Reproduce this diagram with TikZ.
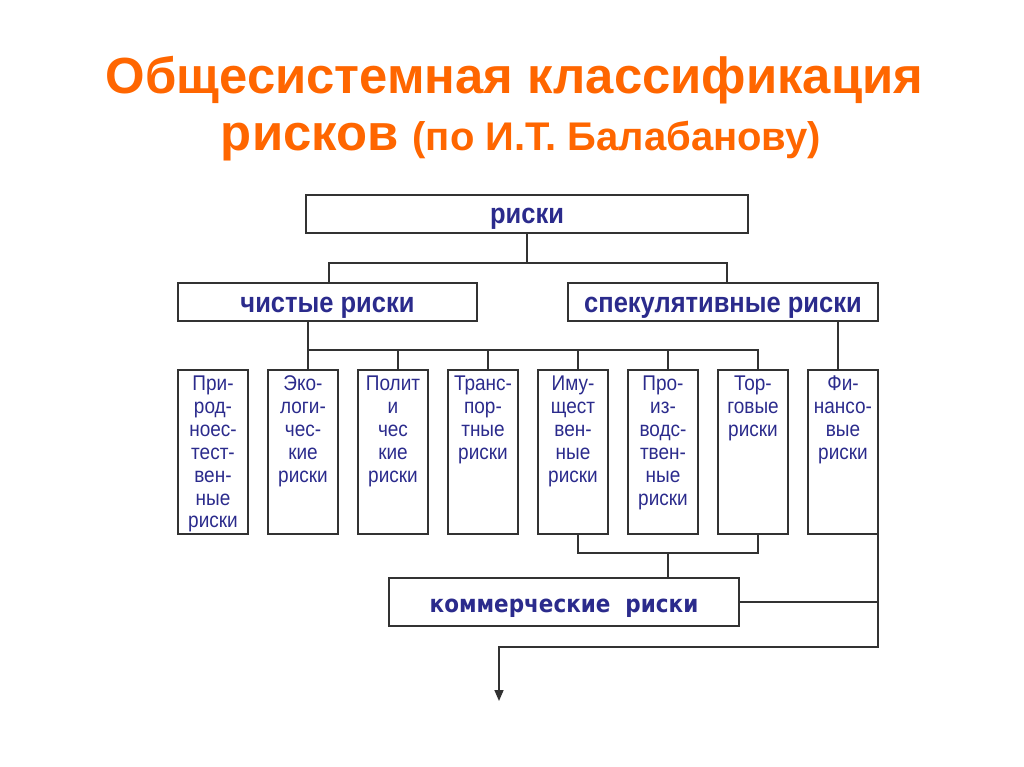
\documentclass[tikz,border=0pt]{standalone}
\usepackage{graphicx}
\usepackage{fontspec}
\setmainfont{Liberation Sans}
\newfontfamily\widefont{DejaVu Sans}
\usetikzlibrary{arrows.meta}
\definecolor{titleorange}{RGB}{255,102,0}
\definecolor{ink}{RGB}{43,43,140}
\definecolor{rule}{RGB}{50,50,50}
\newcommand{\tall}[1]{\scalebox{1}[1.12]{#1}}

\begin{document}
\begin{tikzpicture}[x=1pt,y=-1pt,line width=1.6pt,draw=rule,
  box/.style={draw=rule,fill=white,inner sep=0pt,outer sep=0pt,text height=20pt,text depth=0pt,
     font=\fontsize{25.5}{30}\selectfont\bfseries,text=ink},
  leaf/.style={draw=rule,minimum width=70pt,minimum height=164pt,inner sep=0pt,outer sep=0pt},
  leaftext/.style={anchor=north,inner sep=0pt,text=ink,
     font=\fontsize{19}{20.4}\selectfont}]
  \useasboundingbox (0,0) rectangle (1024,767);
  \node[titleorange,font=\fontsize{50.8}{58}\selectfont\bfseries] (title1) at (514.5,80) {Общесистемная классификация};
  \node[titleorange,font=\fontsize{50.8}{58}\selectfont\bfseries] (title2) at (521,141)
     {рисков {\fontsize{40}{46}\selectfont(по И.Т. Балабанову)}};

  \node[box,minimum width=442pt,minimum height=38pt] (risks) at (527,214) {\tall{риски}};
  \node[box,minimum width=299pt,minimum height=38pt] (pure) at (327.5,302) {\tall{чистые риски}};
  \node[box,minimum width=310pt,minimum height=38pt] (spec) at (723,302) {\tall{спекулятивные риски}};
  \node[box,minimum width=350pt,minimum height=48pt,font=\widefont\fontsize{21.5}{26}\selectfont\bfseries]
     (comm) at (564,602) {\tall{коммерческие\ \ риски}};

  \foreach \i/\txt in {1/{При-\\род-\\ноес-\\тест-\\вен-\\ные\\риски},
                       2/{Эко-\\логи-\\чес-\\кие\\риски},
                       3/{Полит\\и\\чес\\кие\\риски},
                       4/{Транс-\\пор-\\тные\\риски},
                       5/{Иму-\\щест\\вен-\\ные\\риски},
                       6/{Про-\\из-\\водс-\\твен-\\ные\\риски},
                       7/{Тор-\\говые\\риски},
                       8/{Фи-\\нансо-\\вые\\риски}}{
    \node[leaf] (b\i) at (213+90*\i-90,452) {};
    \node[leaftext] (t\i) at ([yshift=-4pt]b\i.north)
       {\tall{\begin{tabular}{@{}c@{}}\txt\end{tabular}}};
  }

  \coordinate (j1) at (527,263);
  \coordinate (j2) at (308,350);
  \coordinate (j3) at (668,553);
  \coordinate (turn) at (878,647);
  \coordinate (out) at (499,701);

  \draw (risks) -- (j1);
  \draw ([xshift=1.5pt]pure.north) |- (j1) -| ([xshift=4pt]spec.north);
  \draw (pure.south -| j2) -- (j2) -- ([xshift=5pt]b7.north |- j2) -- ([xshift=5pt]b7.north);
  \foreach \i in {2,...,6}
    \draw ([xshift=5pt]b\i.north) -- ([xshift=5pt]b\i.north |- j2);
  \draw ([xshift=-5pt]b8.north) -- ([xshift=-5pt]b8.north |- spec.south);
  \draw ([xshift=5pt]b5.south) |- (j3) -| ([xshift=5pt]b7.south);
  \draw (j3) -- (j3 |- comm.north);
  \draw (comm.east) -- (comm.east -| turn);
  \draw[-{Triangle[length=11pt,width=9pt]}] (b8.south east) -- (turn) -| (out);
\end{tikzpicture}
\end{document}
